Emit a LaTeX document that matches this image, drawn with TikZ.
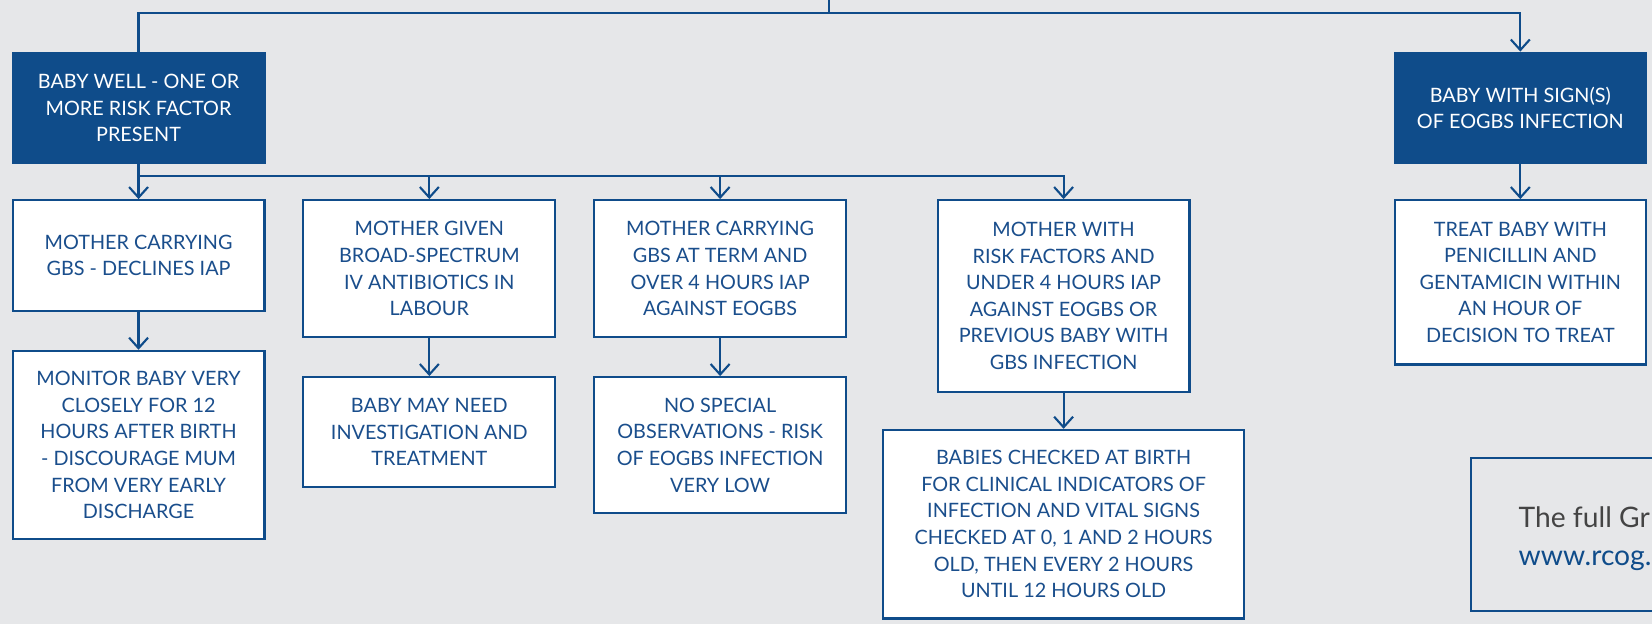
\documentclass[tikz,border=0pt]{standalone}
\usepackage{fontspec}
\setmainfont{Lato}
\usetikzlibrary{arrows.meta}
\definecolor{bgc}{HTML}{E6E7E9}
\definecolor{dblue}{HTML}{0F4C8A}
\definecolor{tblue}{HTML}{1A4E8C}
\definecolor{tgrey}{HTML}{444444}
\tikzset{
  base/.style={inner sep=0pt, align=center, line width=1pt, draw=dblue,
    font=\fontsize{9.4}{12.6}\selectfont},
  darkbox/.style={base, fill=dblue, text=white},
  wbox/.style={base, fill=white, text=tblue},
  conn/.style={line width=1pt, draw=dblue},
  arr/.style={conn, -{Straight Barb[length=5pt,width=9pt]}},
  infotext/.style={anchor=base west, inner sep=0pt, font=\fontsize{13.4}{16}\selectfont},
}
\begin{document}
\begin{tikzpicture}[x=0.5pt,y=-0.5pt]
\useasboundingbox (0,0) rectangle (1568,592);
\clip (0,0) rectangle (1568,592);
\fill[bgc] (0,0) rectangle (1568,592);

% top level boxes
\node[darkbox, minimum width=119.5pt, minimum height=52.5pt] (well) at (131.5,102.5)
  {BABY WELL - ONE OR\\MORE RISK FACTOR\\PRESENT};
\node[darkbox, minimum width=119pt, minimum height=52.5pt] (sign) at (1443,102.5)
  {BABY WITH SIGN(S)\\OF EOGBS INFECTION};

% row 1
\node[wbox, minimum width=119.5pt, minimum height=52.5pt] (a) at (131.5,242.5)
  {MOTHER CARRYING\\GBS - DECLINES IAP};
\node[wbox, minimum width=119.5pt, minimum height=65pt] (b) at (407.5,255)
  {MOTHER GIVEN\\BROAD-SPECTRUM\\IV ANTIBIOTICS IN\\LABOUR};
\node[wbox, minimum width=119.5pt, minimum height=65pt] (c) at (683.5,255)
  {MOTHER CARRYING\\GBS AT TERM AND\\OVER 4 HOURS IAP\\AGAINST EOGBS};
\node[wbox, minimum width=119.5pt, minimum height=91pt] (d) at (1009.5,281)
  {MOTHER WITH\\RISK FACTORS AND\\UNDER 4 HOURS IAP\\AGAINST EOGBS OR\\PREVIOUS BABY WITH\\GBS INFECTION};
\node[wbox, minimum width=119pt, minimum height=78pt] (e) at (1443,268)
  {TREAT BABY WITH\\PENICILLIN AND\\GENTAMICIN WITHIN\\AN HOUR OF\\DECISION TO TREAT};

% row 2
\node[wbox, minimum width=119.5pt, minimum height=89.5pt] (a2) at (131.5,422.5)
  {MONITOR BABY VERY\\CLOSELY FOR 12\\HOURS AFTER BIRTH\\- DISCOURAGE MUM\\FROM VERY EARLY\\DISCHARGE};
\node[wbox, minimum width=119.5pt, minimum height=52pt] (b2) at (407.5,410)
  {BABY MAY NEED\\INVESTIGATION AND\\TREATMENT};
\node[wbox, minimum width=119.5pt, minimum height=64.5pt] (c2) at (683.5,422.5)
  {NO SPECIAL\\OBSERVATIONS - RISK\\OF EOGBS INFECTION\\VERY LOW};
\node[wbox, minimum width=171.5pt, minimum height=89.5pt] (d2) at (1009.5,497.5)
  {BABIES CHECKED AT BIRTH\\FOR CLINICAL INDICATORS OF\\INFECTION AND VITAL SIGNS\\CHECKED AT 0, 1 AND 2 HOURS\\OLD, THEN EVERY 2 HOURS\\UNTIL 12 HOURS OLD};

% connectors
\coordinate (topin) at (787,0);
\coordinate (topbar) at (787,12);
\coordinate (bus) at (0,167);
\draw[conn] (topin) -- (topbar);
\draw[arr] (well.north) |- (topbar) -| (sign.north);
\draw[arr] (well.south) |- (d.north |- bus) -- (d.north);
\draw[arr] (a.north |- bus) -- (a.north);
\draw[arr] (b.north |- bus) -- (b.north);
\draw[arr] (c.north |- bus) -- (c.north);
\draw[arr] (sign.south) -- (e.north);
\draw[arr] (a.south) -- (a2.north);
\draw[arr] (b.south) -- (b2.north);
\draw[arr] (c.south) -- (c2.north);
\draw[arr] (d.south) -- (d2.north);

% info box (cut off at the right edge of the picture, as in the reference)
\draw[conn] (1396,435) rectangle (1600,580);
\node[infotext, text=tgrey] (info1) at (1441,501) {The full Gr};
\node[infotext, text=dblue] (info2) at (1441,537) {www.rcog.};
\end{tikzpicture}
\end{document}
